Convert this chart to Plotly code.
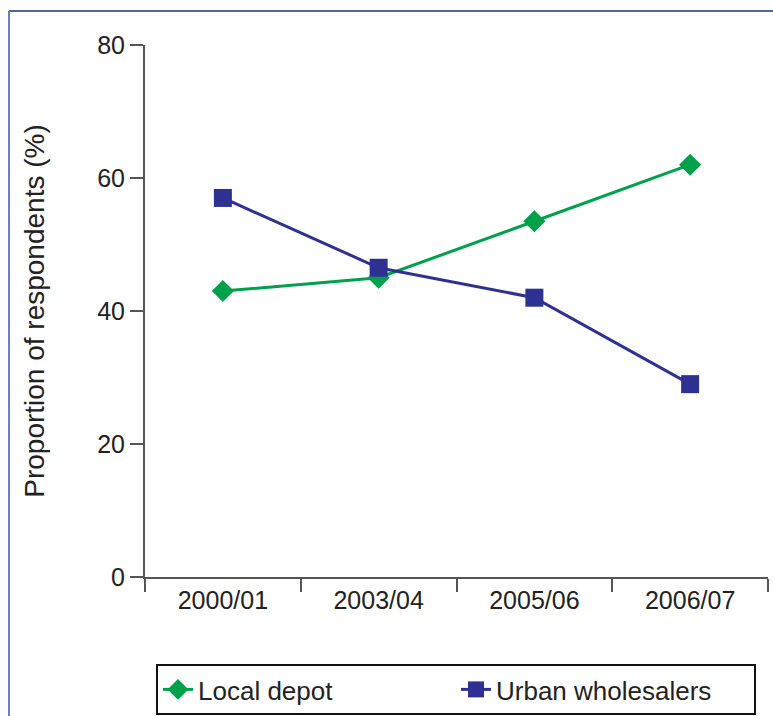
import plotly.graph_objects as go

categories = ["2000/01", "2003/04", "2005/06", "2006/07"]
local_depot = [43, 45, 53.5, 62]
urban_wholesalers = [57, 46.5, 42, 29]
y_ticks = [0, 20, 40, 60, 80]

W, H = 773, 716
L, R, T, B = 145, 5, 45, 139
pw, ph = W - L - R, H - T - B

def px_x(p):
    return (p - L) / pw

def px_y(p):
    return (H - B - p) / ph

GREEN = "#00A14B"
BLUE = "#2E3192"
AXIS = "#555555"
FONT = "Arial, Liberation Sans, sans-serif"

fig = go.Figure()
fig.add_trace(go.Scatter(
    x=categories, y=local_depot, name="Local depot", mode="lines+markers",
    line=dict(color=GREEN, width=3),
    marker=dict(symbol="diamond", size=17, color=GREEN),
))
fig.add_trace(go.Scatter(
    x=categories, y=urban_wholesalers, name="Urban wholesalers", mode="lines+markers",
    line=dict(color=BLUE, width=3),
    marker=dict(symbol="square", size=18, color=BLUE),
))

fig.update_layout(
    width=W, height=H,
    margin=dict(l=L, r=R, t=T, b=B, autoexpand=False),
    paper_bgcolor="white", plot_bgcolor="white",
    font=dict(family=FONT, size=25, color="#222222"),
    showlegend=True,
    legend=dict(
        orientation="h", x=px_x(156), xanchor="left", y=px_y(664), yanchor="top",
        bordercolor="#111111", borderwidth=2, font=dict(size=26, color="#222222"),
        itemwidth=30, entrywidth=253, entrywidthmode="pixels",
        traceorder="normal",
    ),
    xaxis=dict(
        type="category", range=[-0.5, 3.5], showgrid=False, zeroline=False,
        showline=True, linecolor=AXIS, linewidth=2,
        ticks="outside", tickson="boundaries", ticklen=13, tickwidth=2, tickcolor=AXIS,
        tickfont=dict(size=25), fixedrange=True,
    ),
    yaxis=dict(
        range=[0, 80], tickvals=y_ticks, showgrid=False, zeroline=False,
        showline=True, linecolor=AXIS, linewidth=2,
        ticks="outside", ticklen=13, tickwidth=2, tickcolor=AXIS,
        tickfont=dict(size=25),
        title=dict(text="Proportion of respondents (%)", font=dict(size=28), standoff=44),
        automargin=False,
    ),
    shapes=[
        dict(type="line", xref="paper", yref="paper",
             x0=px_x(9), x1=px_x(W), y0=px_y(11), y1=px_y(11),
             line=dict(color="#4F63AE", width=2)),
        dict(type="line", xref="paper", yref="paper",
             x0=px_x(9), x1=px_x(9), y0=px_y(11), y1=px_y(H),
             line=dict(color="#6C7DBD", width=2)),
    ],
)

fig.write_html(
    "out.html",
    config={"displayModeBar": False},
    post_script="document.body.style.margin='0';document.body.style.overflow='hidden';",
)
